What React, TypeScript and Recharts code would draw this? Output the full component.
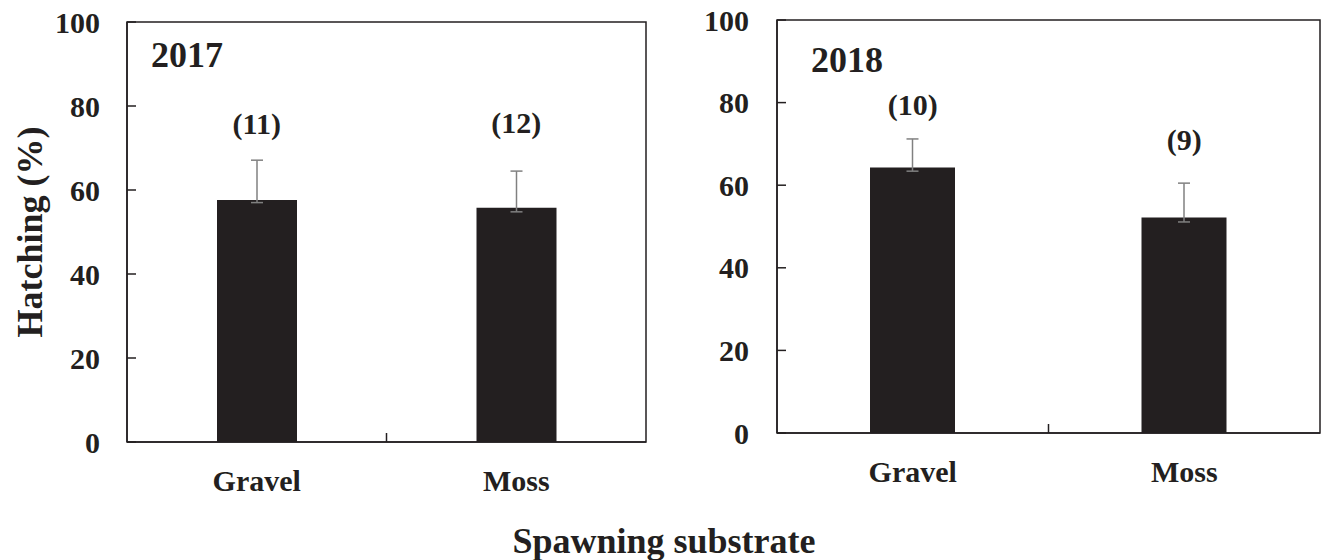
import React from 'react';
import { BarChart, Bar, XAxis, YAxis, ErrorBar, ReferenceDot, ReferenceArea } from 'recharts';

const categories = ['Gravel', 'Moss'];
const yTicks = [0, 20, 40, 60, 80, 100];

const hatch2017 = [57.6, 55.8];
const seLow2017 = [0.6, 1.0];
const seHigh2017 = [9.5, 8.7];
const nLabels2017 = ['(11)', '(12)'];
const nLabelY2017 = [75.9, 76.2];

const hatch2018 = [64.3, 52.2];
const seLow2018 = [0.9, 1.1];
const seHigh2018 = [6.9, 8.3];
const nLabels2018 = ['(10)', '(9)'];
const nLabelY2018 = [79.5, 71.0];

const INK = '#231f20';
const FONT = '"Liberation Serif", "Times New Roman", serif';

const build = (vals: number[], lo: number[], hi: number[], labs: string[], ly: number[]) =>
  categories.map((c, i) => ({ cat: c, value: vals[i], err: [lo[i], hi[i]], n: labs[i], ny: ly[i] }));

const data2017 = build(hatch2017, seLow2017, seHigh2017, nLabels2017, nLabelY2017);
const data2018 = build(hatch2018, seLow2018, seHigh2018, nLabels2018, nLabelY2018);

const YTick = (props: any) => {
  const { x, y, payload, labelGap } = props;
  return (
    <g>
      <line x1={x} x2={x + 9} y1={y} y2={y} stroke={INK} strokeWidth={1.5} />
      <text x={x - labelGap} y={y} textAnchor="end" dominantBaseline="central"
        fontFamily={FONT} fontWeight="bold" fontSize={30} fill={INK}>
        {payload.value}
      </text>
    </g>
  );
};

const XTick = (props: any) => {
  const { x, y, payload, index, halfBand } = props;
  const off = payload && typeof payload.offset === 'number' && payload.offset > 0 ? payload.offset : halfBand;
  return (
    <g>
      {index === 0 ? (
        <line x1={x + off} x2={x + off} y1={y} y2={y - 9} stroke={INK} strokeWidth={1.5} />
      ) : null}
      <text x={x} y={y + 38} textAnchor="middle" dominantBaseline="central"
        fontFamily={FONT} fontWeight="bold" fontSize={30} fill={INK}>
        {payload.value}
      </text>
    </g>
  );
};

type PanelProps = {
  data: any[];
  width: number;
  height: number;
  margin: { top: number; right: number; bottom: number; left: number };
  barSize: number;
  labelGap: number;
};

const Panel = ({ data, width, height, margin, barSize, labelGap }: PanelProps) => {
  const plotW = width - margin.left - 60 - margin.right;
  return (
    <BarChart width={width} height={height} data={data} margin={margin}>
      <XAxis dataKey="cat" height={40} axisLine={{ stroke: INK, strokeWidth: 1.5 }}
        tickLine={false} tickSize={0} tickMargin={0} interval={0}
        tick={<XTick halfBand={plotW / 4} />} />
      <YAxis width={60} domain={[0, 100]} ticks={yTicks} interval={0}
        axisLine={{ stroke: INK, strokeWidth: 1.5 }} tickLine={false} tickSize={0} tickMargin={0}
        tick={<YTick labelGap={labelGap} />} />
      <ReferenceArea x1={categories[0]} x2={categories[categories.length - 1]} y1={0} y2={100}
        fill="none" stroke={INK} strokeWidth={1.5} ifOverflow="visible" />
      <Bar dataKey="value" fill={INK} barSize={barSize} isAnimationActive={false}>
        <ErrorBar dataKey="err" width={6} stroke="#808080" strokeWidth={1.5} direction="y" />
      </Bar>
      {data.map((d) => (
        <ReferenceDot key={d.cat} x={d.cat} y={d.ny} r={0} fill="none" stroke="none"
          label={{ value: d.n, position: 'center', fontFamily: FONT, fontWeight: 'bold', fontSize: 30, fill: INK }} />
      ))}
    </BarChart>
  );
};

export default function App() {
  return (
    <div style={{ position: 'absolute', left: 0, top: 0, width: 1322, height: 560, background: '#fff' }}>
      <div style={{ position: 'absolute', left: 0, top: 0 }}>
        <Panel data={data2017} width={660} height={500}
          margin={{ top: 22, right: 14, bottom: 18, left: 67 }} barSize={80} labelGap={27} />
      </div>
      <div style={{ position: 'absolute', left: 660, top: 0 }}>
        <Panel data={data2018} width={662} height={500}
          margin={{ top: 20, right: 2, bottom: 27, left: 57 }} barSize={85} labelGap={28} />
      </div>
      <svg width={1322} height={560} style={{ position: 'absolute', left: 0, top: 0, pointerEvents: 'none' }}>
        <text x={151} y={67} fontFamily={FONT} fontWeight="bold" fontSize={36} fill={INK}>2017</text>
        <text x={811} y={72} fontFamily={FONT} fontWeight="bold" fontSize={36} fill={INK}>2018</text>
        <text x={42} y={232} transform="rotate(-90 42 232)" textAnchor="middle"
          fontFamily={FONT} fontWeight="bold" fontSize={36} fill={INK}>Hatching (%)</text>
        <text x={664} y={553} textAnchor="middle"
          fontFamily={FONT} fontWeight="bold" fontSize={36} fill={INK}>Spawning substrate</text>
      </svg>
    </div>
  );
}
